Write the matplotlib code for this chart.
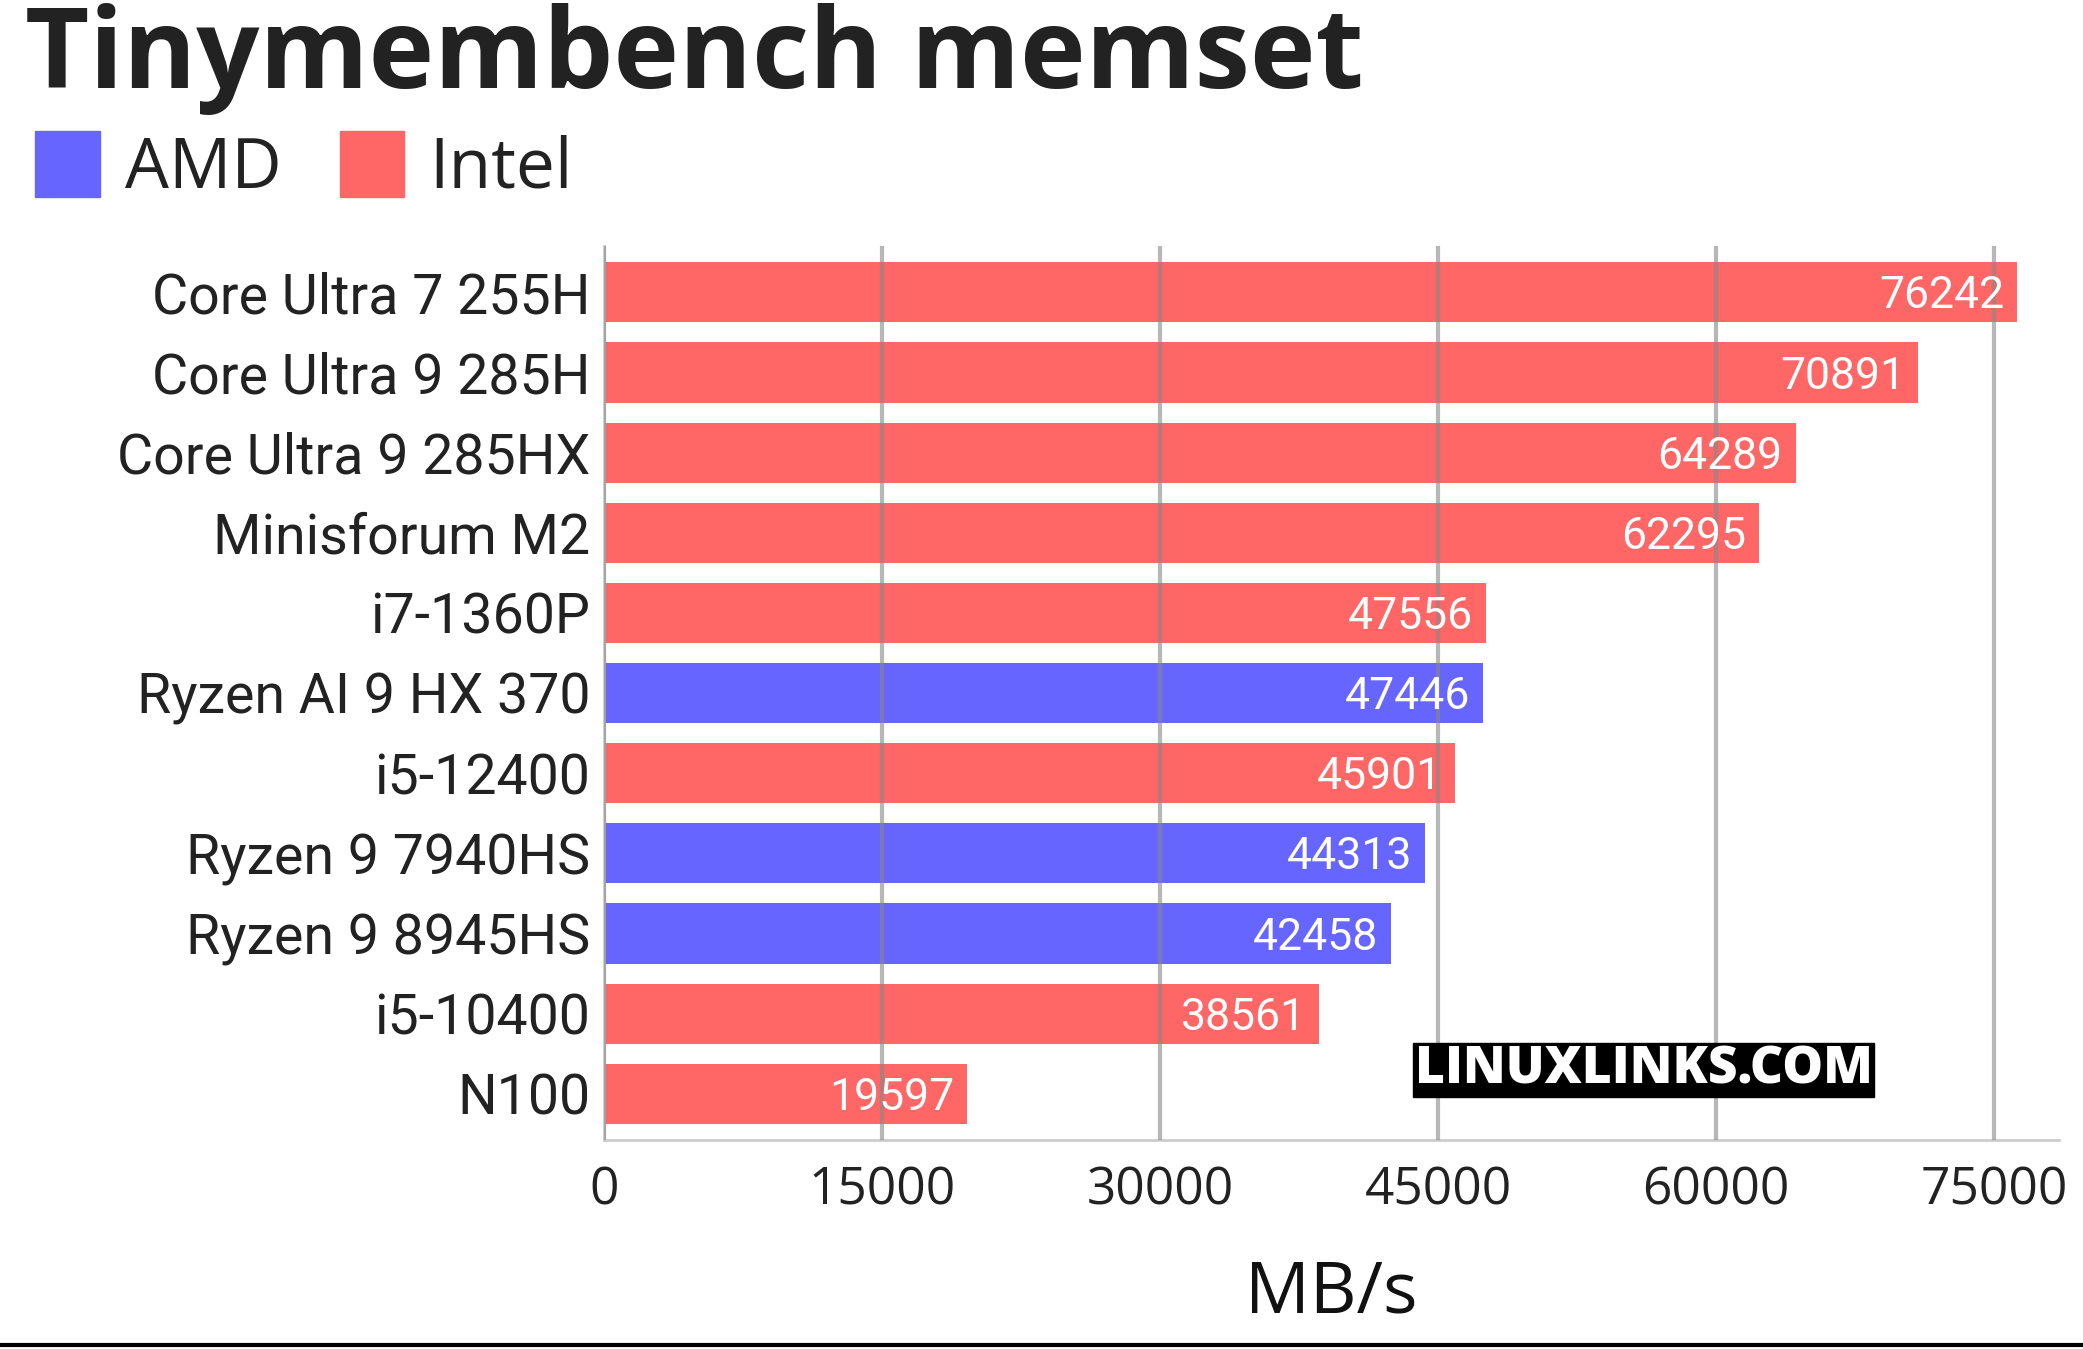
import matplotlib
matplotlib.use('agg')
import matplotlib.pyplot as plt
from matplotlib.patches import Rectangle

plt.rcParams['font.family'] = ['Open Sans', 'DejaVu Sans']

names = ['Core Ultra 7 255H', 'Core Ultra 9 285H', 'Core Ultra 9 285HX', 'Minisforum M2',
         'i7-1360P', 'Ryzen AI 9 HX 370', 'i5-12400', 'Ryzen 9 7940HS',
         'Ryzen 9 8945HS', 'i5-10400', 'N100']
values = [76242, 70891, 64289, 62295, 47556, 47446, 45901, 44313, 42458, 38561, 19597]
vendor = ['Intel', 'Intel', 'Intel', 'Intel', 'Intel', 'AMD', 'Intel', 'AMD', 'AMD', 'Intel', 'Intel']
ticks = [0, 15000, 30000, 45000, 60000, 75000]

colors = {'AMD': '#6666ff', 'Intel': '#ff6666'}

fig = plt.figure(figsize=(20.83, 13.49), dpi=100)
ax = fig.add_axes([0.290, 0.1547, 0.6985, 0.663])

y = list(range(len(names)))
ax.barh(y, values, height=0.75, color=[colors[v] for v in vendor], zorder=1)
for yi, v in zip(y, values):
    ax.text(v - 700, yi + 0.05, str(v), ha='right', va='center', color='white',
            fontsize=32, zorder=3, family=['Roboto', 'DejaVu Sans'])

ax.set_ylim(len(names) - 0.42, -0.58)
ax.set_xlim(0, 78500)
ax.set_yticks(y)
ax.set_yticklabels(names, fontsize=40, color='#222222', family=['Roboto', 'DejaVu Sans'])
ax.set_xticks(ticks)
ax.set_xticklabels([str(t) for t in ticks], fontsize=37, color='#222222')
ax.tick_params(length=0, pad=10)
ax.tick_params(axis='x', pad=18)
ax.xaxis.grid(True, color='#888888', alpha=0.6, linewidth=3, zorder=2)
ax.set_axisbelow(False)
for s in ['top', 'right']:
    ax.spines[s].set_visible(False)
for s in ['left', 'bottom']:
    ax.spines[s].set_color('#cccccc')
    ax.spines[s].set_linewidth(2)
ax.set_xlabel('MB/s', fontsize=52, color='#111111', labelpad=30)

fig.text(0.012, 0.935, 'Tinymembench memset', fontsize=80, fontweight='bold',
         color='#222222', va='baseline')
# legend
for x0, lab in [(0.017, 'AMD'), (0.163, 'Intel')]:
    fig.patches.append(Rectangle((x0, 0.854), 0.031, 0.049, transform=fig.transFigure,
                                 color=colors[lab]))
    fig.text(x0 + 0.043, 0.874, lab, fontsize=50, color='#222222', va='center')

fig.text(0.789, 0.207, 'LINUXLINKS.COM', fontsize=37, fontweight='heavy', color='white',
         ha='center', va='center',
         bbox=dict(facecolor='black', edgecolor='black', pad=1))

fig.add_artist(plt.Line2D([0, 1], [0.003, 0.003], color='black', linewidth=3,
                          transform=fig.transFigure))

fig.savefig('out.png', dpi=100)
